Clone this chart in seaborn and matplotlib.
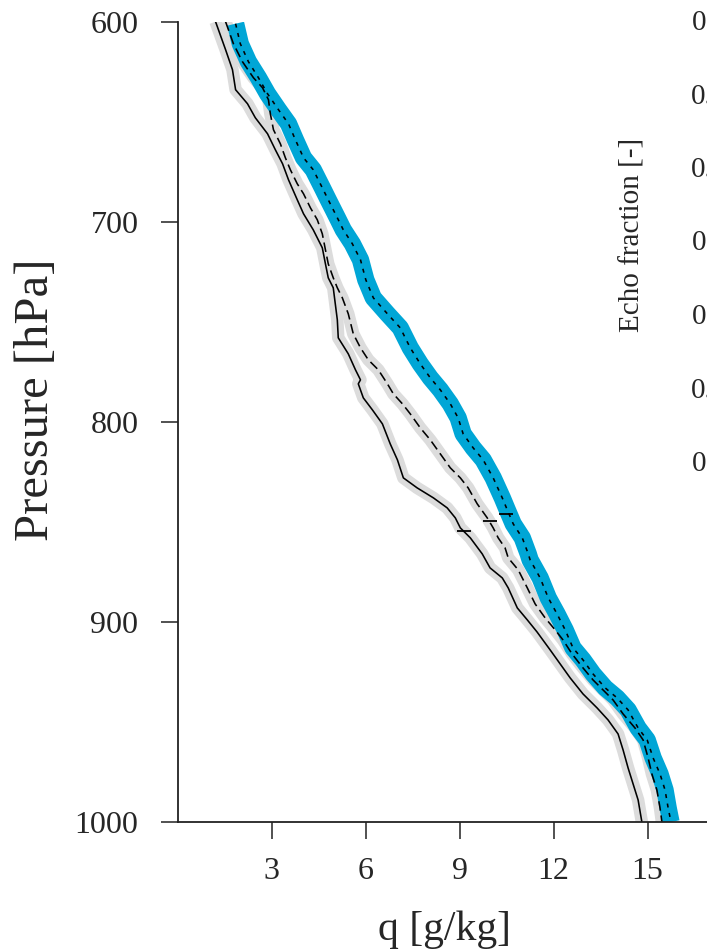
import numpy as np
import pandas as pd
import matplotlib
matplotlib.use("Agg")
import matplotlib.pyplot as plt
import seaborn as sns

# ---- data ----
# solid profile
q_solid = [1.20, 1.52, 1.74, 1.84, 2.22, 2.47, 2.86, 3.11, 3.34, 3.53, 3.81, 4.01, 4.32, 4.61, 4.71,
           4.80, 4.96, 5.09, 5.12, 5.44, 5.67, 5.83, 5.76, 5.92, 6.21, 6.53, 6.78, 7.01, 7.20, 7.64,
           8.16, 8.60, 8.86, 9.02, 9.34, 9.72, 9.97, 10.36, 10.55, 10.84, 11.16, 11.47, 11.89, 12.21,
           12.53, 12.94, 13.39, 13.74, 14.06, 14.22, 14.38, 14.54, 14.70, 14.82]
p_solid = [600, 614, 624, 634, 641, 648, 656, 664, 671, 679, 689, 696, 704, 713, 721,
           728, 733, 749, 758, 766, 774, 779, 781, 788, 794, 801, 811, 819, 828, 833,
           838, 843, 848, 853, 858, 866, 873, 878, 883, 893, 899, 905, 914, 921,
           928, 936, 943, 949, 956, 964, 973, 981, 989, 1000]

# dashed profile
q_dashed = [1.52, 1.77, 2.06, 2.41, 2.70, 2.89, 2.95, 3.05, 3.27, 3.43, 3.59, 3.81, 4.01, 4.23, 4.45,
            4.61, 4.71, 4.80, 4.96, 5.09, 5.25, 5.44, 5.60, 5.83, 6.08, 6.40, 6.69, 6.88, 7.17, 7.42,
            7.74, 8.06, 8.38, 8.70, 9.02, 9.27, 9.56, 9.88, 10.07, 10.23, 10.45, 10.55, 10.87, 11.16,
            11.41, 11.73, 12.05, 12.30, 12.59, 12.94, 13.26, 13.58, 13.90, 14.22, 14.60, 14.86, 15.02,
            15.14, 15.30, 15.40, 15.46]
p_dashed = [600, 611, 620, 628, 633, 639, 646, 654, 661, 668, 674, 681, 686, 693, 699,
            706, 714, 721, 728, 733, 738, 746, 756, 763, 769, 774, 781, 786, 791, 796,
            803, 809, 816, 823, 828, 833, 841, 848, 853, 858, 863, 868, 874, 883,
            891, 898, 904, 909, 916, 923, 929, 934, 939, 946, 953, 959, 968,
            976, 984, 993, 1000]

# dotted profile (blue band)
q_dotted = [1.84, 1.99, 2.25, 2.57, 2.86, 3.21, 3.53, 3.75, 4.01, 4.32, 4.61, 4.80, 5.09, 5.28, 5.57,
            5.83, 6.00, 6.24, 6.69, 7.10, 7.42, 7.74, 8.06, 8.38, 8.70, 8.95, 9.11, 9.43, 9.75, 10.07,
            10.36, 10.52, 10.71, 11.00, 11.19, 11.25, 11.57, 11.83, 12.11, 12.37, 12.62, 12.94, 13.26,
            13.65, 14.03, 14.38, 14.70, 14.99, 15.18, 15.40, 15.56, 15.66, 15.75]
p_dotted = [601, 611, 620, 628, 636, 644, 651, 659, 668, 674, 683, 689, 698, 704, 711,
            719, 729, 738, 746, 753, 763, 771, 778, 784, 791, 798, 806, 813, 819, 828,
            838, 844, 851, 858, 866, 869, 878, 888, 896, 904, 913, 919, 926,
            933, 938, 944, 953, 959, 968, 976, 984, 993, 1000]

# level markers (short horizontal bars)
q_marks = [9.14, 9.96, 10.49]
p_marks = [854.6, 849.7, 846.2]

x_ticks = [3, 6, 9, 12, 15]
y_ticks = [600, 700, 800, 900, 1000]
echo_ticks = [0.0, 0.1, 0.2, 0.3, 0.4, 0.5, 0.6]

# ---- style ----
sns.set_style("ticks")
plt.rcParams['font.family'] = ['Liberation Serif', 'DejaVu Serif']

BLUE = '#00A6D6'
GRAY = '#DCDCDC'

W, H = 707, 950
fig = plt.figure(figsize=(W / 100, H / 100), dpi=100)
ax_l, ax_r, ax_t, ax_b = 178, 707, 21.7, 822
ax = fig.add_axes([ax_l / W, 1 - ax_b / H, (ax_r - ax_l) / W, (ax_b - ax_t) / H])

df_s = pd.DataFrame({'q': q_solid, 'p': p_solid})
df_d = pd.DataFrame({'q': q_dashed, 'p': p_dashed})
df_o = pd.DataFrame({'q': q_dotted, 'p': p_dotted})
df_m = pd.DataFrame({'q': q_marks, 'p': p_marks})

kw = dict(x='q', y='p', sort=False, estimator=None, ax=ax, legend=False)
# background bands
sns.lineplot(data=df_s, color=GRAY, lw=9, solid_capstyle='butt', solid_joinstyle='round', **kw)
sns.lineplot(data=df_d, color=GRAY, lw=9, solid_capstyle='butt', solid_joinstyle='round', **kw)
sns.lineplot(data=df_o, color=BLUE, lw=12.5, solid_capstyle='butt', solid_joinstyle='round', **kw)
# black profiles
sns.lineplot(data=df_s, color='black', lw=1.15, **kw)
sns.lineplot(data=df_d, color='black', lw=1.15, linestyle=(0, (6, 3)), **kw)
sns.lineplot(data=df_o, color='black', lw=1.15, linestyle=(0, (2.5, 3.5)), **kw)
sns.scatterplot(data=df_m, x='q', y='p', marker='_', s=95, color='black',
                linewidth=1.3, ax=ax, legend=False, zorder=5)

ax.set_xlim(0, (ax_r - 177.5) / 31.33)
ax.set_ylim(1000, 600)
ax.set_xticks(x_ticks)
ax.set_xticklabels([str(t) for t in x_ticks])
ax.set_yticks(y_ticks)
ax.set_yticklabels([str(t) for t in y_ticks])
for s in ['top', 'right']:
    ax.spines[s].set_visible(False)
for s in ['left', 'bottom']:
    ax.spines[s].set_linewidth(1.3)
    ax.spines[s].set_color('#222222')
ax.tick_params(axis='both', direction='out', length=12.5, width=1.2, color='#333333',
               labelsize=23)
ax.tick_params(axis='y', pad=16)
ax.tick_params(axis='x', pad=13)

ax.set_xlabel('q [g/kg]', fontsize=30, va='center')
ax.xaxis.set_label_coords((445 - ax_l) / (ax_r - ax_l), (ax_b - 930) / (ax_b - ax_t))
ax.set_ylabel('Pressure [hPa]', fontsize=35, va='center')
ax.yaxis.set_label_coords((36 - ax_l) / (ax_r - ax_l), (ax_b - 400) / (ax_b - ax_t))

# second panel (mostly off the right edge): echo fraction
e_left, e_right, e_top, e_bot = 736, 936, 20, 461
ax2 = fig.add_axes([e_left / W, 1 - e_bot / H, (e_right - e_left) / W, (e_bot - e_top) / H])
ax2.set_ylim(0, 0.6)
ax2.set_yticks(echo_ticks)
ax2.set_yticklabels([f'{t:.1f}' for t in echo_ticks])
ax2.set_xticks([])
ax2.patch.set_visible(False)
for s in ax2.spines.values():
    s.set_visible(False)
ax2.tick_params(axis='y', length=0, pad=6, labelsize=21)
ax2.set_ylabel('Echo fraction [-]', fontsize=21, va='center')
ax2.yaxis.set_label_coords((632 - e_left) / (e_right - e_left), (e_bot - 235) / (e_bot - e_top))

fig.savefig('out.png', dpi=100)
